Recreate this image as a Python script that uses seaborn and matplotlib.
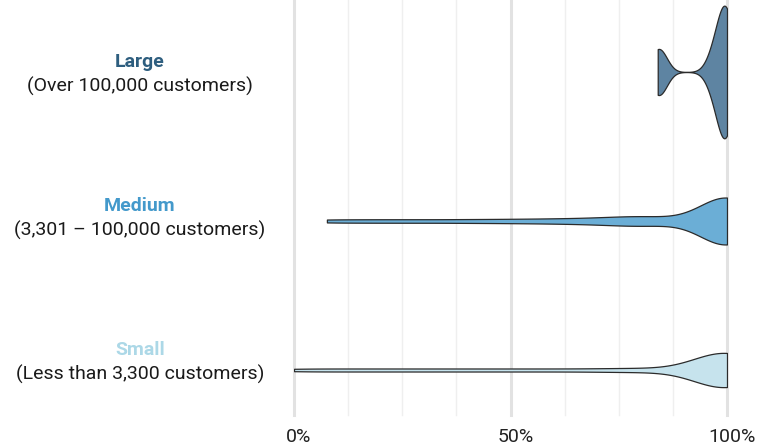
import matplotlib
matplotlib.use("Agg")
import matplotlib.pyplot as plt
import matplotlib.transforms as mtransforms
import seaborn as sns
import pandas as pd
import numpy as np
from matplotlib.ticker import MultipleLocator, FixedLocator

# ---- data (percent values) ----
categories = ["Large", "Medium", "Small"]
subtitles = ["(Over 100,000 customers)", "(3,301 \u2013 100,000 customers)", "(Less than 3,300 customers)"]
large_vals = [84, 84, 84.8, 96.5, 97.5, 98.5, 99, 99.5, 100, 100, 100, 100, 100]
medium_vals = [7.6, 18, 28, 38, 47, 55, 62, 68, 73, 77, 80, 83, 86,
               97, 98, 99, 99.5] + [100] * 16
small_vals = [0, 10, 20, 30, 40, 50, 60, 70, 78, 84,
              96, 97, 98, 98, 99, 99, 99] + [100] * 13
tick_vals = [0, 50, 100]
tick_labels = ["0%", "50%", "100%"]

fill_colors = ["#5e84a2", "#6baed6", "#c6e3ed"]
title_colors = ["#2e5e7f", "#4399cb", "#acd8e7"]
widths = [0.89, 0.315, 0.23]
bandwidths = [1.8, 6.0, 7.0]   # KDE bandwidth in percentage points
label_y = [0.015, -0.022, -0.055]

plt.rcParams["font.family"] = ["Roboto", "DejaVu Sans"]

fig = plt.figure(figsize=(7.63, 4.47), dpi=100)
ax = fig.add_axes([294 / 763, 1 - 415 / 447, (727 - 294) / 763, 415 / 447])

series = [large_vals, medium_vals, small_vals]
for cat, vals, col, w, h in zip(categories, series, fill_colors, widths, bandwidths):
    df = pd.DataFrame({"value": vals, "size": [cat] * len(vals)})
    factor = h / np.std(vals, ddof=1)
    sns.violinplot(data=df, x="value", y="size", order=categories, color=col,
                   saturation=1, width=w, density_norm="width", cut=0,
                   inner=None, bw_method=factor, gridsize=300,
                   linecolor="#2b2b2b", linewidth=0.9, ax=ax, zorder=3)

ax.set_xlim(0, 100)
ax.set_ylim(2.302, -0.483)
ax.set_xlabel("")
ax.set_ylabel("")
ax.set_yticks([])
ax.xaxis.set_major_locator(FixedLocator(tick_vals))
ax.xaxis.set_minor_locator(MultipleLocator(12.5))
ax.set_xticklabels(tick_labels, fontsize=14, color="#222222")
ax.tick_params(axis="x", which="both", length=0, pad=9)
shift = mtransforms.ScaledTranslation(5 / 100, 0, fig.dpi_scale_trans)
for lbl in ax.get_xticklabels():
    lbl.set_transform(lbl.get_transform() + shift)
for s in ax.spines.values():
    s.set_visible(False)

ax.grid(axis="x", which="major", color="#e2e2e2", linewidth=2.2, zorder=0)
ax.grid(axis="x", which="minor", color="#efefef", linewidth=1.0, zorder=0)
ax.set_axisbelow(True)
for t in ax.xaxis.get_major_ticks() + ax.xaxis.get_minor_ticks():
    t.gridline.set_clip_on(False)

trans = mtransforms.blended_transform_factory(fig.transFigure, ax.transData)
for i, (cat, sub, tc) in enumerate(zip(categories, subtitles, title_colors)):
    y = i + label_y[i]
    ax.text(140 / 763, y - 0.08, cat, transform=trans, ha="center", va="center",
            fontsize=14, fontweight="bold", color=tc)
    ax.text(140 / 763, y + 0.085, sub, transform=trans, ha="center", va="center",
            fontsize=14, color="#1a1a1a")

fig.savefig("out.png", dpi=100)
